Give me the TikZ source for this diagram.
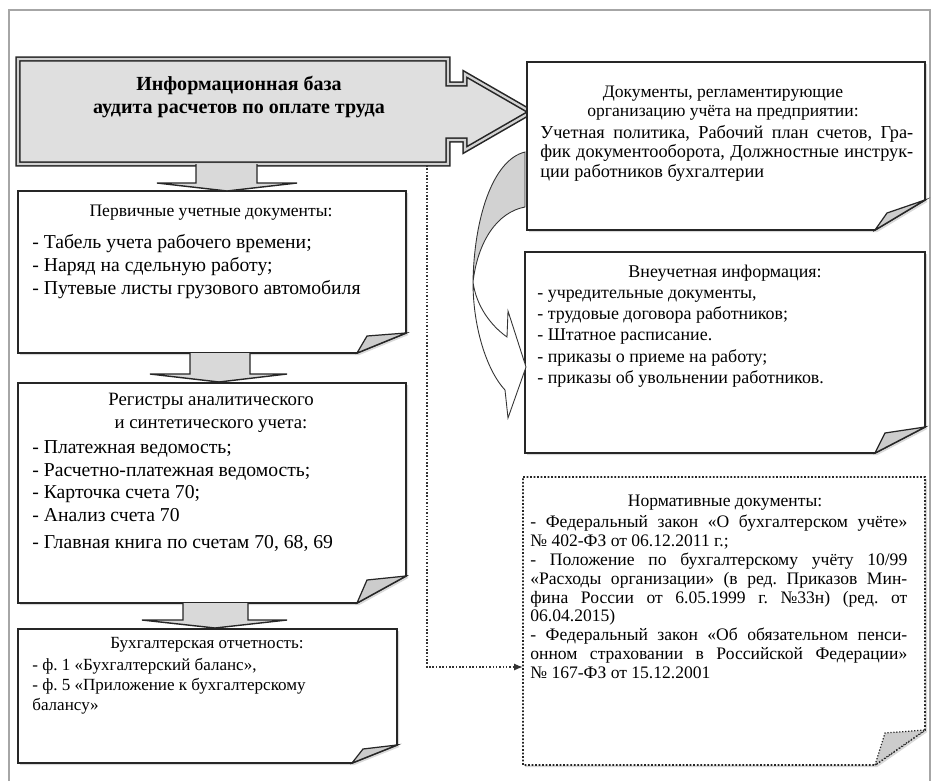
\documentclass[tikz,border=0pt]{standalone}
\usepackage{fontspec}
\setmainfont{Liberation Serif}
\usetikzlibrary{shadows,arrows.meta}
\frenchspacing

\tikzset{
  paper/.style={draw=black!85, line width=1pt, fill=white,
    drop shadow={shadow xshift=1.2pt, shadow yshift=-1.2pt, opacity=.3}},
  dotpaper/.style={paper, densely dotted},
  fold/.style={draw=black!85, line width=.7pt, fill=gray!40},
  mainbox/.style={draw=black!85, line width=.9pt, double=gray!35, double distance=1.3pt, fill=gray!25},
  downarrow/.style={draw=black!85, line width=.8pt, fill=gray!30},
  curvback/.style={draw=black!80, line width=.5pt, fill=gray!35},
  curvfront/.style={draw=black!80, line width=.5pt, fill=white},
  dotline/.style={draw=black!80, line width=.9pt, densely dotted, -{Latex[length=5pt,width=4pt]}},
  frame/.style={draw=gray!70, line width=.6pt},
  maintitle/.style={font=\fontsize{11.4}{13.6}\selectfont\bfseries, align=center, inner sep=0},
  headtext/.style={font=\fontsize{10}{11.5}\selectfont, align=center, inner sep=0},
  itemtext/.style={font=\fontsize{11.2}{13}\selectfont, align=left, inner sep=0, anchor=north west},
  smalltext/.style={font=\fontsize{9.5}{11}\selectfont, align=left, inner sep=0, anchor=north west}
}

\begin{document}
\begin{tikzpicture}[x=0.02cm, y=-0.02cm]
    \useasboundingbox (0,0) rectangle (935,781);
    \draw[frame] (9,781) -- (9,10) -- (930,10) -- (930,781);

    % main block with right arrow
    \draw[mainbox] (18,59) -- (448,59) -- (448,84) -- (465,84) -- (465,74) -- (531,112)
        -- (465,150) -- (465,140) -- (448,140) -- (448,164) -- (18,164) -- cycle;
    \node[maintitle] (infoBase) at (239,97) {Информационная база\\аудита расчетов по оплате труда};

    % left column
    \draw[paper] (18,191) -- (406,191) -- (406,333) -- (357,353) -- (18,353) -- cycle;
    \draw[fold] (357,353) -- (367,336) -- (406,333) -- cycle;
    \draw[paper] (18,383) -- (406,383) -- (406,576) -- (357,603) -- (18,603) -- cycle;
    \draw[fold] (357,603) -- (367,580) -- (406,576) -- cycle;
    \draw[paper] (18,629) -- (397,629) -- (397,745) -- (352,763) -- (18,763) -- cycle;
    \draw[fold] (352,763) -- (363,749) -- (397,745) -- cycle;

    \draw[downarrow] (196,164) -- (196,183) -- (157,183) -- (227,191) -- (297,183) -- (257,183) -- (257,164);
    \draw[downarrow] (190,353) -- (190,374) -- (150,374) -- (219,382) -- (287,374) -- (250,374) -- (250,353);
    \draw[downarrow] (183,603) -- (183,620) -- (142,620) -- (215,628) -- (287,620) -- (248,620) -- (248,603);

    \node[headtext] (primTitle) at (211,213) {Первичные учетные документы:};
    \node[itemtext] (primList) at (32,234) {- Табель учета рабочего времени;\\
        - Наряд на сдельную работу;\\- Путевые листы грузового автомобиля};

    \node[headtext, font=\fontsize{10.7}{13}\selectfont] (regTitle) at (211,413) {Регистры аналитического\\и синтетического учета:};
    \node[itemtext] (regList) at (32,440) {- Платежная ведомость;\\- Расчетно-платежная ведомость;\\
        - Карточка счета 70;\\- Анализ счета 70\\[2pt]- Главная книга по счетам 70, 68, 69};

    \node[headtext, font=\fontsize{9.7}{11}\selectfont] (repTitle) at (207,645) {Бухгалтерская отчетность:};
    \node[smalltext, font=\fontsize{9.7}{11.4}\selectfont] (repList) at (32,658) {- ф. 1 «Бухгалтерский баланс»,\\
        - ф. 5 «Приложение к бухгалтерскому\\балансу»};

    % right column
    \draw[paper] (527,62) -- (925,62) -- (925,200) -- (875,230) -- (527,230) -- cycle;
    \draw[fold] (875,230) -- (887,213) -- (925,200) -- cycle;
    \draw[paper] (525,252) -- (925,252) -- (925,427) -- (875,453) -- (525,453) -- cycle;
    \draw[fold] (875,453) -- (885,433) -- (925,427) -- cycle;
    \draw[dotpaper] (523,477) -- (925,477) -- (925,730) -- (875,765) -- (523,765) -- cycle;
    \draw[fold, densely dotted] (875,765) -- (885,733) -- (925,730) -- cycle;

    \node[headtext, font=\fontsize{10}{11}\selectfont] (orgTitle) at (723,103) {Документы, регламентирующие\\организацию учёта на предприятии:};
    \node[smalltext, font=\fontsize{10.4}{11}\selectfont] (orgList) at (540,125) {\makebox[7.46cm][s]{Учетная политика, Рабочий план счетов, Гра-}\\
        \makebox[7.46cm][s]{фик документооборота, Должностные инструк-}\\ции работников бухгалтерии};

    \node[headtext, font=\fontsize{10.2}{12}\selectfont] (extTitle) at (725,273) {Внеучетная информация:};
    \node[smalltext, font=\fontsize{10.2}{12}\selectfont] (extList) at (537,290) {- учредительные документы,\\
        - трудовые договора работников;\\- Штатное расписание.\\- приказы о приеме на работу;\\
        - приказы об увольнении работников.};

    \node[headtext, font=\fontsize{10}{10.7}\selectfont] (normTitle) at (725,503) {Нормативные документы:};
    \node[smalltext, font=\fontsize{10}{10.7}\selectfont] (normList) at (530,515) {\makebox[7.54cm][s]{- Федеральный закон «О бухгалтерском учёте»}\\
        № 402-ФЗ от 06.12.2011 г.;\\
        \makebox[7.54cm][s]{- Положение по бухгалтерскому учёту 10/99}\\
        \makebox[7.54cm][s]{«Расходы организации» (в ред. Приказов Мин-}\\
        \makebox[7.54cm][s]{фина России от 6.05.1999 г. №33н) (ред. от}\\
        06.04.2015)\\
        \makebox[7.54cm][s]{- Федеральный закон «Об обязательном пенси-}\\
        \makebox[7.54cm][s]{онном страховании в Российской Федерации»}\\
        № 167-ФЗ от 15.12.2001};

    % curved arrow between the upper right boxes
    \draw[curvback] (525,152) .. controls (492,160) and (474,220) .. (473,282)
        .. controls (478,240) and (498,212) .. (525,207) -- cycle;
    \draw[curvfront] (473,282) .. controls (473,330) and (488,372) .. (505,390) -- (508,418) -- (526,367)
        -- (508,311) -- (507,337) .. controls (490,325) and (476,305) .. (473,282) -- cycle;

    % dotted link to the normative documents
    \coordinate (dotStart) at (427,165);
    \coordinate (dotEnd) at (523,667);
    \draw[dotline] (dotStart) |- (dotEnd);
\end{tikzpicture}
\end{document}
